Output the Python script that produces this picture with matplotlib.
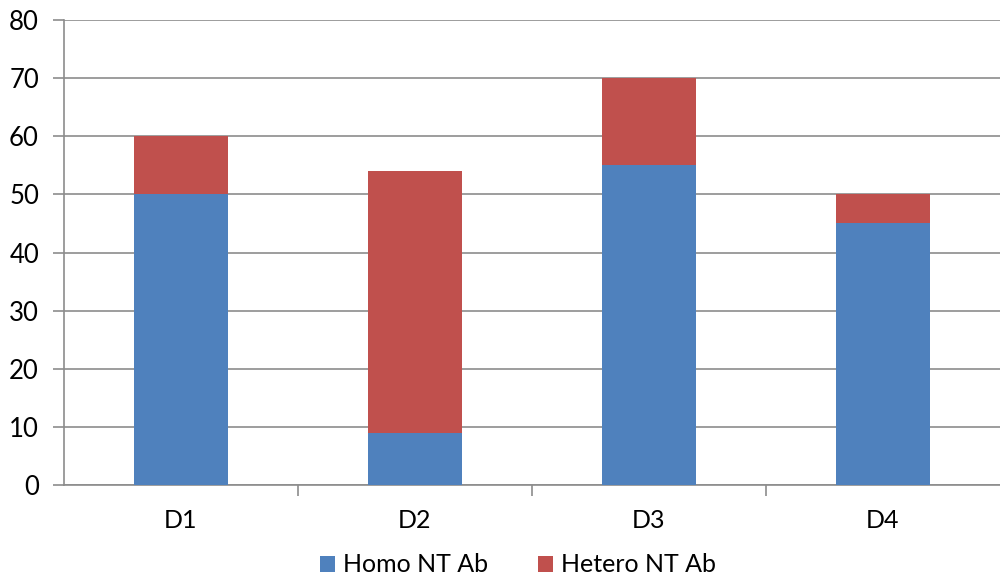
import matplotlib.pyplot as plt

categories = ["D1", "D2", "D3", "D4"]
homo = [50, 9, 55, 45]
hetero = [10, 45, 15, 5]

blue = "#4F81BD"
red = "#C0504D"

plt.rcParams['font.family'] = ['Lato', 'DejaVu Sans']

fig = plt.figure(figsize=(10, 5.8), dpi=100)
ax = fig.add_axes([0.064, 0.1638, 0.936, 0.8017])

x = range(len(categories))
ax.bar(x, homo, 0.4, color=blue, label="Homo NT Ab", zorder=3)
ax.bar(x, hetero, 0.4, bottom=homo, color=red, label="Hetero NT Ab", zorder=3)

ax.set_xlim(-0.5, len(categories) - 0.5)
ax.set_ylim(0, 80)
ax.set_yticks(range(0, 81, 10))
ax.yaxis.grid(True, color="#8c8c8c", linewidth=1.2, zorder=0)

ax.set_xticks(list(x))
ax.set_xticklabels(categories)
ax.set_xticks([0.5, 1.5, 2.5], minor=True)
ax.tick_params(axis='x', which='major', length=0, pad=17, labelsize=18)
ax.tick_params(axis='x', which='minor', length=8, color="#8c8c8c", width=1.2)
ax.tick_params(axis='y', length=8, color="#8c8c8c", width=1.2, pad=10, labelsize=18.5)

for s in ["top", "right"]:
    ax.spines[s].set_visible(False)
for s in ["left", "bottom"]:
    ax.spines[s].set_color("#8c8c8c")
    ax.spines[s].set_linewidth(1.2)

ax.legend(loc="lower center", bbox_to_anchor=(0.485, -0.245), ncol=2, frameon=False,
          fontsize=18, handlelength=0.6, handleheight=0.6, handletextpad=0.3,
          columnspacing=2.0)

plt.savefig("out.png")
